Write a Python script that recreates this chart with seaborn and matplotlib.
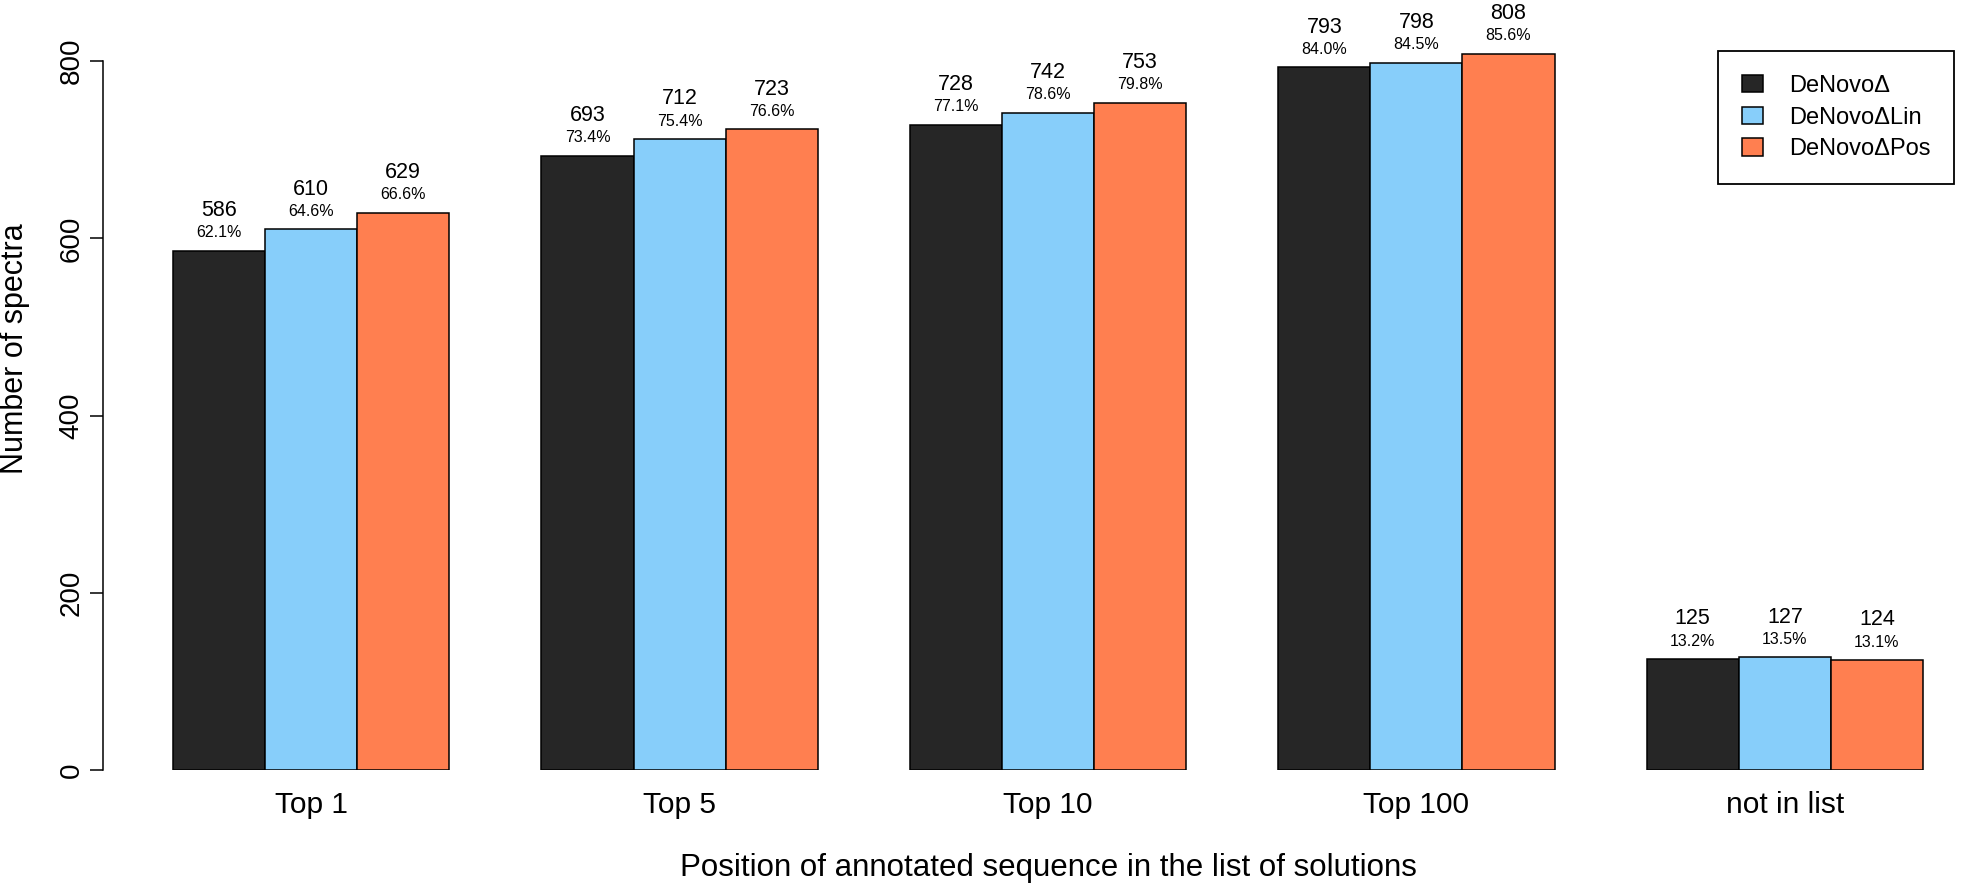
import numpy as np
import pandas as pd
import matplotlib
matplotlib.use("Agg")
import matplotlib.pyplot as plt
from matplotlib.patches import Patch
import seaborn as sns

# Data
positions = ["Top 1", "Top 5", "Top 10", "Top 100", "not in list"]
methods = ["DeNovo\u0394", "DeNovo\u0394Lin", "DeNovo\u0394Pos"]
counts_denovo = [586, 693, 728, 793, 125]
counts_lin = [610, 712, 742, 798, 127]
counts_pos = [629, 723, 753, 808, 124]
pct_denovo = ["62.1%", "73.4%", "77.1%", "84.0%", "13.2%"]
pct_lin = ["64.6%", "75.4%", "78.6%", "84.5%", "13.5%"]
pct_pos = ["66.6%", "76.6%", "79.8%", "85.6%", "13.1%"]
colors = ["#262626", "#87CEFA", "#FF7F50"]

counts = [counts_denovo, counts_lin, counts_pos]
pcts = [pct_denovo, pct_lin, pct_pos]

# Format long pour seaborn
rows = []
for m, cs in zip(methods, counts):
    for p, c in zip(positions, cs):
        rows.append({"position": p, "method": m, "count": c})
df = pd.DataFrame(rows)

sns.set_style("white")
plt.rcParams["font.family"] = ["Liberation Sans", "DejaVu Sans"]
plt.rcParams["text.color"] = "black"
plt.rcParams["axes.labelcolor"] = "black"
plt.rcParams["xtick.color"] = "black"
plt.rcParams["ytick.color"] = "black"
plt.rcParams["axes.edgecolor"] = "black"

W, H = 1961, 891
fig = plt.figure(figsize=(W / 100, H / 100), dpi=100)
# plot region like R: left at 103 px, right at 1993 px, y=0 at 770 px
ax = fig.add_axes([103 / W, (H - 770) / H, 1890 / W, 770 / H])

sns.barplot(data=df, x="position", y="count", hue="method", order=positions,
            hue_order=methods, palette=colors, width=0.75, edgecolor="black",
            linewidth=1.1, saturation=1, legend=False, ax=ax)

ax.set_xlim(-0.565, 4.565)
ax.set_ylim(0, 869)

# Étiquettes au-dessus des barres
for cont, cs, ps in zip(ax.containers, counts, pcts):
    for bar, c, p in zip(cont, cs, ps):
        xc = bar.get_x() + bar.get_width() / 2
        top = bar.get_height()
        ax.annotate(str(c), (xc, top), xytext=(0, 29), textcoords="offset points",
                    ha="center", va="center", fontsize=15.5, annotation_clip=False)
        ax.annotate(p, (xc, top), xytext=(0, 13), textcoords="offset points",
                    ha="center", va="center", fontsize=11.5, annotation_clip=False)

# Axes style R
for s in ["top", "right", "bottom"]:
    ax.spines[s].set_visible(False)
ax.spines["left"].set_bounds(0, 800)
ax.spines["left"].set_linewidth(1.1)
ax.set_yticks([0, 200, 400, 600, 800])
ax.tick_params(axis="y", length=9.4, width=1.1, pad=4, labelsize=20, direction="out", left=True)
for lab in ax.get_yticklabels():
    lab.set_rotation(90)
    lab.set_va("center")
ax.tick_params(axis="x", length=0, pad=15, labelsize=21.5)

ax.set_xlabel("Position of annotated sequence in the list of solutions", fontsize=22.5)
ax.xaxis.set_label_coords(0.5, -0.127)
ax.xaxis.label.set_va("center")
ax.set_ylabel("Number of spectra", fontsize=22)
ax.yaxis.set_label_coords((15 - 103) / 1890, 0.547)
ax.yaxis.label.set_va("center")

# Légende
handles = [Patch(facecolor=c, edgecolor="black", linewidth=1.1) for c in colors]
leg = fig.legend(handles, methods, loc="upper left",
                 bbox_to_anchor=(1718 / W, 1 - 51 / H), bbox_transform=fig.transFigure,
                 fontsize=17, frameon=True, fancybox=False, framealpha=1,
                 edgecolor="black", handlelength=0.9, handleheight=0.76,
                 handletextpad=1.1, borderpad=1.0, labelspacing=0.42, borderaxespad=0)
leg.get_frame().set_linewidth(1.3)

fig.savefig("out.png", dpi=100)
